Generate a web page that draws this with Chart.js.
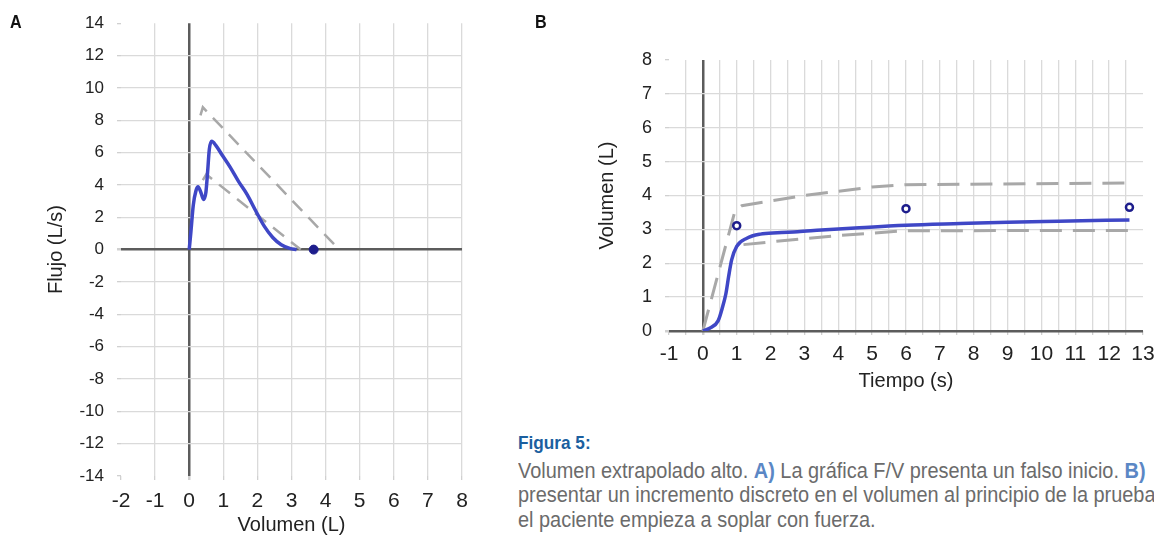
<!DOCTYPE html>
<html>
<head>
<meta charset="utf-8">
<script src="https://cdn.jsdelivr.net/npm/chart.js@4.4.0/dist/chart.umd.min.js"></script>
<style>
  body { margin: 0; width: 1154px; height: 541px; overflow: hidden; background: #fff; position: relative;
         font-family: "Liberation Sans", Arial, sans-serif; }
  #chartA { position: absolute; left: 0; top: 0; }
  #chartB { position: absolute; left: 520px; top: 0; }
  .panel { position: absolute; font-weight: bold; font-size: 19px; color: #111;
           transform: scaleX(0.85); transform-origin: left top; }
  .cap { position: absolute; left: 518px; white-space: nowrap; font-size: 22px; line-height: 24px; color: #6b6b6b;
         transform: scaleX(0.905); transform-origin: left top; }
  .cap b { color: #5b87c5; }
  .cap.head { color: #1b5f9f; font-weight: bold; font-size: 19px; }
</style>
</head>
<body>
<canvas id="chartA" width="490" height="541"></canvas>
<canvas id="chartB" width="650" height="400"></canvas>
<div class="panel" style="left:10px; top:11px;">A</div>
<div class="panel" style="left:535px; top:11px;">B</div>
<div class="cap head" style="top:431px;">Figura 5:</div>
<div class="cap" style="top:459px;">Volumen extrapolado alto. <b>A)</b> La gráfica F/V presenta un falso inicio. <b>B)</b></div>
<div class="cap" style="top:483px;">presentar un incremento discreto en el volumen al principio de la prueba cuando</div>
<div class="cap" style="top:508px;">el paciente empieza a soplar con fuerza.</div>

<script>
// --- panel A: flujo / volumen ---
const volA  = [0, 0.05, 0.12, 0.2, 0.26, 0.34, 0.42, 0.49, 0.54, 0.59, 0.66, 0.78, 0.98, 1.2, 1.45, 1.7, 1.95, 2.2, 2.45, 2.7, 2.95, 3.15];
const flowA = [0, 1.1, 2.75, 3.65, 3.88, 3.55, 3.1, 3.55, 4.8, 6.2, 6.7, 6.45, 5.8, 5.1, 4.2, 3.4, 2.4, 1.45, 0.75, 0.3, 0.08, 0];
const outerVolA  = [0.33, 0.4, 4.4];
const outerFlowA = [8.3, 8.8, 0];
const innerVolA  = [0.4, 0.5, 3.27];
const innerFlowA = [4.3, 4.65, 0];
const markVolA  = [3.65];
const markFlowA = [0];
const volTicksA  = [-2, -1, 0, 1, 2, 3, 4, 5, 6, 7, 8];
const flowTicksA = [-14, -12, -10, -8, -6, -4, -2, 0, 2, 4, 6, 8, 10, 12, 14];

// --- panel B: volumen / tiempo ---
const timeB = [0, 0.2, 0.45, 0.58, 0.68, 0.76, 0.85, 1.0, 1.3, 1.7, 2.2, 2.8, 3.5, 4.5, 6, 7.6, 9, 10.5, 12.6];
const volB  = [0, 0.08, 0.3, 0.7, 1.1, 1.6, 2.1, 2.5, 2.74, 2.86, 2.9, 2.93, 2.98, 3.04, 3.12, 3.17, 3.21, 3.24, 3.28];
const upperTimeB = [0, 0.95, 1.15, 3, 5, 6, 12.6];
const upperVolB  = [0, 3.55, 3.7, 4.0, 4.25, 4.32, 4.37];
const lowerTimeB = [1.2, 2.5, 4, 6, 12.6];
const lowerVolB  = [2.55, 2.68, 2.82, 2.96, 2.97];
const markTimeB = [1, 6, 12.6];
const markVolB  = [3.11, 3.61, 3.65];
const timeTicksB = [-1, 0, 1, 2, 3, 4, 5, 6, 7, 8, 9, 10, 11, 12, 13];
const volTicksB  = [0, 1, 2, 3, 4, 5, 6, 7, 8];

const FONT = '"Liberation Sans", Arial, sans-serif';
const BLUE = '#3f47c6';
const NAVY = '#1d1d8c';
const GRAY = '#a8a8a8';

function pts(xs, ys) {
  return xs.map((x, i) => ({ x: x, y: ys[i] }));
}

function gridColor(edges) {
  return ctx => {
    const v = ctx.tick.value;
    if (v === 0) return '#5c5c5c';
    if (edges.includes(v)) return 'rgba(0,0,0,0)';
    return '#dadada';
  };
}
function gridWidth(ctx) {
  return ctx.tick.value === 0 ? 2.5 : 1.3;
}

function axis(opts) {
  return {
    type: 'linear',
    position: opts.position,
    min: opts.min,
    max: opts.max,
    border: { display: false },
    grid: { color: gridColor(opts.edges), lineWidth: gridWidth, tickLength: 4, tickColor: '#d0d0d0' },
    ticks: {
      font: { family: FONT, size: opts.tickSize },
      color: '#222',
      padding: opts.pad,
      autoSkip: false,
      maxRotation: 0,
      callback: v => Number.isInteger(v) ? String(v) : ''
    },
    title: {
      display: true,
      text: opts.title,
      font: { family: FONT, size: 20 },
      color: '#222',
      padding: opts.titlePad
    },
    afterBuildTicks: s => { s.ticks = opts.ticks.map(v => ({ value: v })); },
    afterFit: s => {
      if (opts.position === 'left') s.width = opts.size; else s.height = opts.size;
    }
  };
}

// minor 0.5 s steps for panel B grid
function withHalves(list) {
  const out = [];
  list.forEach((v, i) => { out.push(v); if (i < list.length - 1) out.push(v + 0.5); });
  return out;
}

new Chart(document.getElementById('chartA'), {
  type: 'scatter',
  data: {
    datasets: [
      { data: pts(markVolA, markFlowA), pointRadius: 4.5, pointBackgroundColor: NAVY, pointBorderColor: NAVY, showLine: false, order: 0 },
      { data: pts(volA, flowA), showLine: true, borderColor: BLUE, borderWidth: 3.5, pointRadius: 0, cubicInterpolationMode: 'monotone', order: 1 },
      { data: pts(outerVolA, outerFlowA), showLine: true, borderColor: GRAY, borderWidth: 2.5, borderDash: [14, 9], pointRadius: 0, order: 2 },
      { data: pts(innerVolA, innerFlowA), showLine: true, borderColor: GRAY, borderWidth: 2.5, borderDash: [14, 9], pointRadius: 0, order: 3 }
    ]
  },
  options: {
    responsive: false,
    animation: false,
    layout: { padding: { top: 20, right: 28, bottom: 0, left: 0 } },
    plugins: { legend: { display: false }, tooltip: { enabled: false } },
    scales: {
      x: axis({ position: 'bottom', min: -2, max: 8, ticks: volTicksA, edges: [-2], tickSize: 21, pad: 9,
                title: 'Volumen (L)', titlePad: { top: 0, bottom: 4 }, size: 65 }),
      y: axis({ position: 'left', min: -14, max: 14, ticks: flowTicksA, edges: [-14, 14], tickSize: 17, pad: 13,
                title: 'Flujo (L/s)', titlePad: { top: 44, bottom: 0 }, size: 121 })
    }
  }
});

new Chart(document.getElementById('chartB'), {
  type: 'scatter',
  data: {
    datasets: [
      { data: pts(markTimeB, markVolB), pointRadius: 3.5, pointBorderWidth: 2.5, pointBackgroundColor: '#fff', pointBorderColor: NAVY, showLine: false, order: 0 },
      { data: pts(timeB, volB), showLine: true, borderColor: BLUE, borderWidth: 3.5, pointRadius: 0, cubicInterpolationMode: 'monotone', order: 1 },
      { data: pts(upperTimeB, upperVolB), showLine: true, borderColor: GRAY, borderWidth: 3, borderDash: [22, 11], pointRadius: 0, order: 2 },
      { data: pts(lowerTimeB, lowerVolB), showLine: true, borderColor: GRAY, borderWidth: 3, borderDash: [22, 11], pointRadius: 0, order: 3 }
    ]
  },
  options: {
    responsive: false,
    animation: false,
    layout: { padding: { top: 60, right: 27, bottom: 0, left: 0 } },
    plugins: { legend: { display: false }, tooltip: { enabled: false } },
    scales: {
      x: axis({ position: 'bottom', min: -1, max: 13, ticks: withHalves(timeTicksB), edges: [-1, 13], tickSize: 21, pad: 7,
                title: 'Tiempo (s)', titlePad: { top: 0, bottom: 7 }, size: 69 }),
      y: axis({ position: 'left', min: 0, max: 8, ticks: volTicksB, edges: [8], tickSize: 18, pad: 13,
                title: 'Volumen (L)', titlePad: { top: 75, bottom: 0 }, size: 149 })
    }
  }
});
</script>
</body>
</html>
